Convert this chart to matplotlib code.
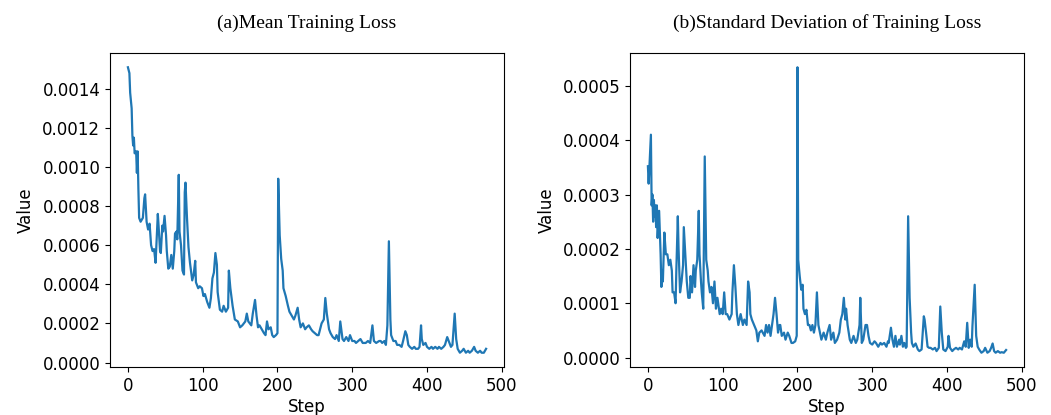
import numpy as np
import matplotlib
matplotlib.use('Agg')
import matplotlib.pyplot as plt

# Mean training loss (step, value)
mean_steps = [0, 2, 3, 5, 6, 7, 8, 9, 11, 12, 13, 14, 15, 17, 20, 22, 23, 25, 27, 29,
              31, 33, 35, 37, 39, 40, 41, 43, 44, 46, 47, 49, 51, 52, 54, 56, 58, 60, 62, 63,
              65, 66, 68, 69, 71, 73, 75, 76, 77, 79, 81, 83, 86, 88, 90, 91, 94, 96, 99, 101,
              103, 106, 109, 111, 113, 115, 117, 119, 120, 123, 126, 128, 131, 134, 135, 137, 140, 143, 147, 150,
              153, 157, 159, 161, 165, 167, 170, 172, 174, 176, 179, 182, 184, 186, 188, 191, 193, 195, 198, 200,
              201, 203, 205, 207, 208, 211, 214, 216, 219, 222, 224, 227, 229, 231, 234, 237, 239, 242, 245, 247,
              250, 253, 255, 259, 262, 264, 266, 269, 271, 274, 277, 279, 282, 284, 287, 289, 292, 295, 297, 300,
              303, 305, 308, 311, 314, 318, 321, 324, 327, 329, 332, 336, 338, 340, 343, 345, 347, 349, 351, 352,
              355, 358, 360, 363, 366, 368, 371, 373, 375, 377, 380, 383, 385, 388, 390, 392, 393, 395, 398, 400,
              403, 406, 408, 411, 414, 416, 419, 422, 424, 427, 429, 432, 434, 437, 439, 441, 444, 447, 449, 452,
              455, 457, 460, 463, 465, 468, 471, 473, 476, 479]
mean_vals = [0.00151, 0.00148, 0.00138, 0.00130, 0.00116, 0.00111, 0.00115, 0.00107, 0.00108, 0.00097,
             0.00108, 0.00089, 0.00074, 0.00072, 0.00074, 0.00084, 0.00086, 0.00072, 0.00068, 0.00071,
             0.00060, 0.00057, 0.00058, 0.00051, 0.00067, 0.00076, 0.00070, 0.00057, 0.00056, 0.00070,
             0.00067, 0.00075, 0.00065, 0.00057, 0.00048, 0.00049, 0.00055, 0.00048, 0.00057, 0.00066,
             0.00067, 0.00063, 0.00096, 0.00067, 0.00060, 0.00047, 0.00045, 0.00087, 0.00092, 0.00074,
             0.00059, 0.00051, 0.00042, 0.00045, 0.00052, 0.00041, 0.00038, 0.00039, 0.00038, 0.00034,
             0.00035, 0.00031, 0.00028, 0.00033, 0.00043, 0.00046, 0.00056, 0.00050, 0.00036, 0.00027,
             0.00026, 0.00029, 0.00026, 0.00028, 0.00047, 0.00038, 0.00029, 0.00022, 0.00021, 0.00018,
             0.00019, 0.00021, 0.00025, 0.00021, 0.00019, 0.00025, 0.00032, 0.00024, 0.00018, 0.00019,
             0.00017, 0.00015, 0.00014, 0.00021, 0.00017, 0.00018, 0.00014, 0.00013, 0.00014, 0.00015,
             0.00094, 0.00065, 0.00053, 0.00047, 0.00038, 0.00034, 0.00029, 0.00026, 0.00024, 0.00022,
             0.00024, 0.00028, 0.00022, 0.00018, 0.00020, 0.00017, 0.00018, 0.00019, 0.00017, 0.00016,
             0.00015, 0.00014, 0.00014, 0.00020, 0.00022, 0.00033, 0.00025, 0.00017, 0.00015, 0.00013,
             0.00012, 0.00014, 0.00011, 0.00021, 0.00012, 0.00011, 0.00013, 0.00011, 0.00014, 0.00011,
             0.00011, 0.00010, 0.00011, 0.00012, 0.00010, 0.00010, 0.00011, 0.00010, 0.00019, 0.00011,
             0.00010, 0.00011, 0.00011, 0.00010, 0.00011, 0.00009, 0.00019, 0.00062, 0.00022, 0.00014,
             0.00011, 0.00011, 0.00009, 0.00009, 0.00008, 0.00011, 0.00016, 0.00014, 0.00009, 0.00008,
             0.00007, 0.00008, 0.00007, 0.00007, 0.00008, 0.00019, 0.00012, 0.00009, 0.00010, 0.00008,
             0.00007, 0.00008, 0.00007, 0.00008, 0.00007, 0.00008, 0.00007, 0.00008, 0.00009, 0.00013,
             0.00011, 0.00008, 0.00009, 0.00025, 0.00012, 0.00007, 0.00005, 0.00006, 0.00007, 0.00005,
             0.00006, 0.00005, 0.00006, 0.00008, 0.00006, 0.00005, 0.00006, 0.00005, 0.00005, 0.00007]

# Standard deviation of training loss (step, value)
std_steps = [0, 1, 2, 4, 5, 6, 7, 8, 9, 10, 11, 12, 13, 15, 16, 17, 18, 19, 20, 22,
             24, 26, 28, 30, 32, 33, 35, 37, 38, 40, 41, 43, 45, 47, 48, 50, 52, 54, 56, 57,
             59, 61, 63, 64, 66, 68, 69, 71, 72, 74, 76, 78, 80, 81, 83, 85, 87, 89, 91, 93,
             96, 98, 100, 102, 104, 106, 109, 112, 113, 115, 117, 119, 121, 124, 127, 129, 132, 134, 136, 137,
             139, 142, 145, 147, 149, 152, 156, 158, 160, 162, 164, 167, 168, 170, 172, 174, 176, 177, 179, 182,
             184, 187, 189, 192, 194, 197, 199, 200, 201, 203, 205, 207, 208, 210, 212, 214, 216, 218, 220, 222,
             224, 226, 228, 230, 232, 235, 238, 240, 243, 245, 248, 250, 253, 256, 258, 260, 262, 264, 265, 267,
             270, 272, 275, 278, 280, 283, 284, 286, 288, 291, 293, 295, 297, 300, 303, 305, 308, 311, 313, 316,
             319, 321, 322, 325, 327, 329, 331, 333, 336, 337, 339, 341, 343, 345, 346, 348, 350, 352, 353, 355,
             358, 361, 363, 366, 369, 370, 372, 374, 376, 378, 381, 384, 386, 389, 391, 393, 395, 398, 401, 402,
             404, 407, 409, 412, 415, 417, 420, 423, 425, 427, 429, 431, 433, 434, 437, 439, 441, 443, 446, 449,
             451, 454, 457, 459, 461, 463, 465, 468, 471, 473, 476, 479]
std_vals = [0.000352, 0.00032, 0.00035, 0.00041, 0.00028, 0.00030, 0.00025, 0.00029, 0.00026, 0.00028,
            0.00024, 0.00028, 0.00022, 0.00027, 0.00023, 0.00019, 0.00013, 0.00016, 0.00014, 0.00023,
            0.00019, 0.00019, 0.00017, 0.00018, 0.00016, 0.00012, 0.00012, 0.00010, 0.00016, 0.00026,
            0.00020, 0.00012, 0.00014, 0.00017, 0.00024, 0.00019, 0.00014, 0.00011, 0.00011, 0.00015,
            0.00012, 0.00017, 0.00013, 0.00016, 0.00018, 0.00027, 0.00019, 0.00014, 0.00012, 0.00009,
            0.00037, 0.00018, 0.00016, 0.00014, 0.00012, 0.00013, 0.00010, 0.00014, 0.00009, 0.00011,
            0.00008, 0.00009, 0.00008, 0.00012, 0.00008, 0.00008, 0.00007, 0.00008, 0.00012, 0.00017,
            0.00013, 0.00008, 0.00006, 0.00008, 0.00006, 0.00007, 0.00006, 0.00014, 0.00012, 0.00008,
            0.00007, 0.00006, 0.00005, 0.00003, 0.000046, 0.00005, 0.00004, 0.00006, 0.000046, 0.00006,
            0.00004, 0.00007, 0.00008, 0.00011, 0.00008, 0.000046, 0.00006, 0.00006, 0.00004, 0.000046,
            0.000033, 0.000046, 0.00004, 0.000027, 0.000027, 0.00003, 0.00004, 0.000534, 0.00018, 0.00015,
            0.000125, 0.000134, 0.00009, 0.00008, 0.000088, 0.00006, 0.00006, 0.00005, 0.00006, 0.000046,
            0.00006, 0.00012, 0.00006, 0.000046, 0.000033, 0.000046, 0.000033, 0.000046, 0.00006, 0.000033,
            0.000046, 0.000027, 0.000033, 0.000046, 0.00007, 0.00008, 0.00011, 0.00007, 0.00009, 0.00006,
            0.000033, 0.000027, 0.00004, 0.000027, 0.000033, 0.00006, 0.00011, 0.000027, 0.000033, 0.00006,
            0.00006, 0.00004, 0.000027, 0.000024, 0.00003, 0.000027, 0.00002, 0.000027, 0.000024, 0.000027,
            0.00002, 0.00003, 0.000027, 0.000055, 0.000033, 0.00002, 0.00004, 0.00002, 0.000033, 0.000024,
            0.00004, 0.00002, 0.000027, 0.000018, 0.00002, 0.00026, 0.00011, 0.000046, 0.000027, 0.00002,
            0.000026, 0.000015, 0.000012, 0.000015, 0.000076, 0.00007, 0.000046, 0.00002, 0.000018, 0.000018,
            0.000015, 0.000018, 0.000012, 0.000018, 0.000094, 0.000046, 0.000015, 0.000012, 0.00002, 0.00004,
            0.000018, 0.000012, 0.000015, 0.000018, 0.000015, 0.000018, 0.000015, 0.00003, 0.00002, 0.000064,
            0.000018, 0.000033, 0.00002, 0.000058, 0.000134, 0.00004, 0.00002, 0.000015, 0.000009, 0.000012,
            0.000018, 0.000009, 0.000012, 0.000018, 0.000026, 0.000012, 0.000009, 0.000012, 0.000009, 0.00001,
            0.000009, 0.000014]

titles = ['(a)Mean Training Loss', '(b)Standard Deviation of Training Loss']

fig = plt.figure(figsize=(10.51, 4.15), dpi=100)
ax1 = fig.add_axes([110 / 1051, 48 / 415, 394 / 1051, 314 / 415])
ax2 = fig.add_axes([630 / 1051, 48 / 415, 394 / 1051, 314 / 415])

for ax, steps, vals, title in [(ax1, mean_steps, mean_vals, titles[0]),
                               (ax2, std_steps, std_vals, titles[1])]:
    ax.plot(steps, vals, color='#1f77b4', linewidth=1.6)
    ax.set_title(title, fontfamily='Liberation Serif', fontsize=14, pad=18)
    ax.set_xlabel('Step', fontsize=12, labelpad=2)
    ax.set_ylabel('Value', fontsize=12, labelpad=5)
    ax.tick_params(labelsize=12)
    ax.set_xticks([0, 100, 200, 300, 400, 500])

ax1.set_yticks(np.arange(0, 0.00141, 0.0002))
ax1.yaxis.set_major_formatter(matplotlib.ticker.FormatStrFormatter('%.4f'))
ax2.set_yticks(np.arange(0, 0.00051, 0.0001))
ax2.yaxis.set_major_formatter(matplotlib.ticker.FormatStrFormatter('%.4f'))

fig.savefig('out.png', dpi=100)
